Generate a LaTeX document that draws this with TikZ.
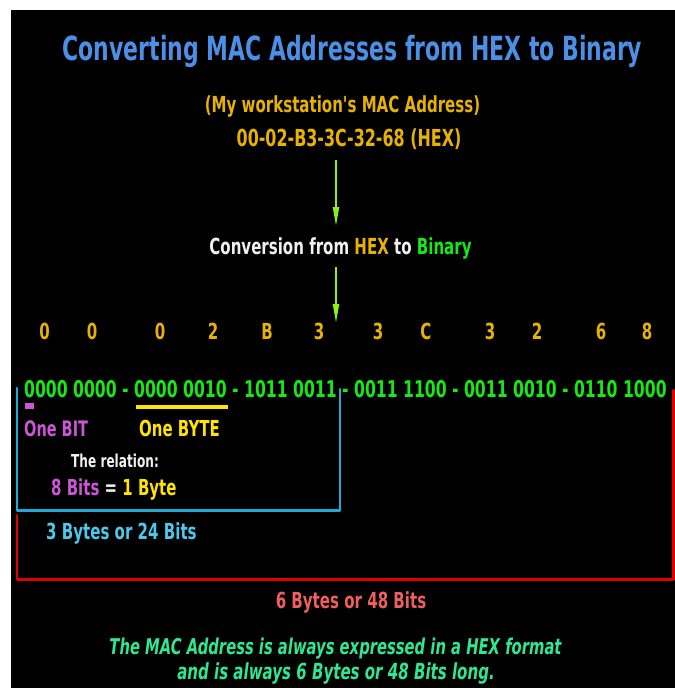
\documentclass[tikz,border=0pt]{standalone}
\usepackage{fontspec}
\usepackage{tikz}
\setmainfont{DejaVu Sans}[FakeStretch=0.68]
\newfontfamily\titlefont{DejaVu Sans}[FakeStretch=0.66]
\newfontfamily\quotefont{DejaVu Sans}[FakeStretch=0.68]
\usetikzlibrary{arrows.meta}
\usetikzlibrary{positioning}
\definecolor{mblue}{RGB}{74, 144, 230}
\definecolor{mgold}{RGB}{232, 178, 0}
\definecolor{mlime}{RGB}{140, 240, 30}
\definecolor{mgreen}{RGB}{20, 235, 20}
\definecolor{mpurple}{RGB}{205, 85, 215}
\definecolor{myellow}{RGB}{255, 228, 0}
\definecolor{mwhite}{RGB}{240, 240, 240}
\definecolor{mcyan}{RGB}{30, 170, 215}
\definecolor{mlcyan}{RGB}{75, 200, 235}
\definecolor{mred}{RGB}{225, 0, 0}
\definecolor{msalmon}{RGB}{240, 95, 95}
\definecolor{mmint}{RGB}{45, 232, 145}
\tikzset{txt/.style = {inner sep = 0, anchor = base, font = \bfseries\fontsize{22.2}{26}\selectfont}}
\tikzset{hex/.style = {txt, mgold}}
\tikzset{flow/.style = {mlime, line width = 2, -{Triangle[length = 19, width = 6]}}}
\tikzset{bracket/.style = {line width = 3, line cap = round, line join = round}}

\begin{document}
\begin{tikzpicture}[x = 1bp, y = -1bp]
    \useasboundingbox (0, 0) rectangle (675, 688);
    \fill [white] (0, 0) rectangle (675, 688);
    \fill [black] (11, 10) rectangle (675, 688);

    \node [txt, mblue, font = \titlefont\bfseries\fontsize{33.4}{38}\selectfont] (title) at (352.5, 61) {Converting MAC Addresses from HEX to Binary};
    \node [txt, mgold] (mine) at (342.5, 113) {(My workstation{\quotefont\bfseries'}s MAC Address)};
    \node [txt, mgold, font = \bfseries\fontsize{23.5}{27}\selectfont] (mac) at (349, 146) {00-02-B3-3C-32-68 (HEX)};
    \node [txt, mwhite] (conv) at (340.5, 254) {Conversion from \textcolor{mgold}{HEX} to \textcolor{mgreen}{Binary}};

    \coordinate (arrA) at (336, 160);
    \coordinate (arrB) at (336, 226);
    \coordinate (arrC) at (336, 267);
    \coordinate (arrD) at (336, 323);
    \draw [flow] (arrA) -- (arrB);
    \draw [flow] (arrC) -- (arrD);

    \node [hex] (h1) at (44.5, 339) {0};
    \node [hex] (h2) at (92, 339) {0};
    \node [hex] (h3) at (160, 339) {0};
    \node [hex] (h4) at (213, 339) {2};
    \node [hex] (h5) at (267, 339) {B};
    \node [hex] (h6) at (319, 339) {3};
    \node [hex] (h7) at (378, 339) {3};
    \node [hex] (h8) at (426, 339) {C};
    \node [hex] (h9) at (490, 339) {3};
    \node [hex] (h10) at (537, 339) {2};
    \node [hex] (h11) at (601, 339) {6};
    \node [hex] (h12) at (647, 339) {8};

    \node [txt, mgreen, anchor = base west, font = \bfseries\fontsize{23.1}{27}\selectfont] (bin) at (24, 397)
        {0000 0000 - 0000 0010 - 1011 0011 - 0011 1100 - 0011 0010 - 0110 1000};

    \fill [mpurple] (25, 403) rectangle (34, 409);
    \draw [myellow, line width = 4] (136, 407) -- (228, 407);
    \node [txt, mpurple, anchor = base west, font = \bfseries\fontsize{21.4}{25}\selectfont] (bit) at (24, 436) {One BIT};
    \node [txt, myellow, anchor = base west, font = \bfseries\fontsize{22.1}{26}\selectfont] (byte) at (139, 436) {One BYTE};
    \node [txt, mwhite, anchor = base west, font = \bfseries\fontsize{17.9}{21}\selectfont] (rel) at (71, 467) {The relation:};
    \node [txt, anchor = base west, font = \bfseries\fontsize{22.1}{26}\selectfont] (eq) at (51, 495)
        {\textcolor{mpurple}{8 Bits} \textcolor{mwhite}{=} \textcolor{myellow}{1 Byte}};

    % brackets
    \coordinate (bluA) at (17, 388);
    \coordinate (bluB) at (17, 510);
    \coordinate (bluC) at (340, 510);
    \coordinate (bluD) at (340, 389);
    \draw [bracket, mcyan] (bluA) -- (bluB) -- (bluC) -- (bluD);
    \coordinate (redA) at (17, 515);
    \coordinate (redB) at (17, 579);
    \coordinate (redC) at (673, 579);
    \coordinate (redD) at (673, 390);
    \draw [bracket, mred] (redA) -- (redB) -- (redC) -- (redD);

    \node [txt, mlcyan, anchor = base west] (three) at (46, 539) {3 Bytes or 24 Bits};
    \node [txt, msalmon] (six) at (351, 608) {6 Bytes or 48 Bits};

    \node [txt, mmint, font = \bfseries\itshape\fontsize{21.8}{25}\selectfont] (note1) at (335.5, 654) {The MAC Address is always expressed in a HEX format};
    \node [txt, mmint, font = \bfseries\itshape\fontsize{22.2}{26}\selectfont] (note2) at (336, 679) {and is always 6 Bytes or 48 Bits long.};
  \end{tikzpicture}
\end{document}
